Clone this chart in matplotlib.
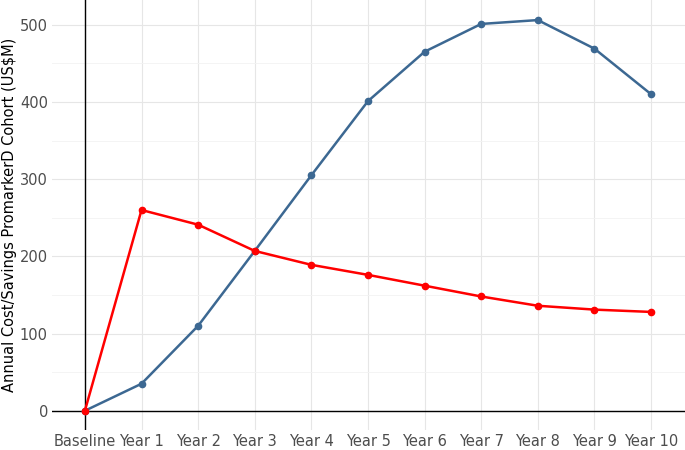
import matplotlib
matplotlib.use("Agg")
import matplotlib.pyplot as plt

categories = ["Baseline", "Year 1", "Year 2", "Year 3", "Year 4", "Year 5",
              "Year 6", "Year 7", "Year 8", "Year 9", "Year 10"]
blue_vals = [0, 35, 110, 207, 305, 401, 465, 501, 506, 469, 410]
red_vals = [0, 260, 241, 207, 189, 176, 162, 148, 136, 131, 128]

fig = plt.figure(figsize=(6.85, 4.5), dpi=100)
ax = fig.add_axes([0.076, 0.045, 0.924, 0.955])
x = list(range(len(categories)))
ax.plot(x, blue_vals, color="#3c6892", lw=1.8, marker="o", ms=4.5, zorder=3)
ax.plot(x, red_vals, color="#ff0000", lw=1.8, marker="o", ms=4.5, zorder=4)
ax.set_xlim(-0.58, 10.6)
ax.set_ylim(-24.6, 532)
ax.set_xticks(x)
ax.set_xticklabels(categories)
ax.set_yticks([0, 100, 200, 300, 400, 500])
ax.set_yticks([50, 150, 250, 350, 450], minor=True)
ax.grid(True, which="major", color="#e6e6e6", lw=0.8)
ax.grid(True, which="minor", axis="y", color="#f2f2f2", lw=0.6)
ax.set_axisbelow(True)
for s in ax.spines.values():
    s.set_visible(False)
ax.axhline(0, color="black", lw=1, zorder=2)
ax.axvline(0, color="black", lw=1, zorder=2)
ax.tick_params(axis="both", which="both", length=0, labelsize=10.5, labelcolor="#4d4d4d", pad=3)
ax.set_ylabel("Annual Cost/Savings PromarkerD Cohort (US$M)", fontsize=10.5, labelpad=2)
fig.savefig("out.png")
